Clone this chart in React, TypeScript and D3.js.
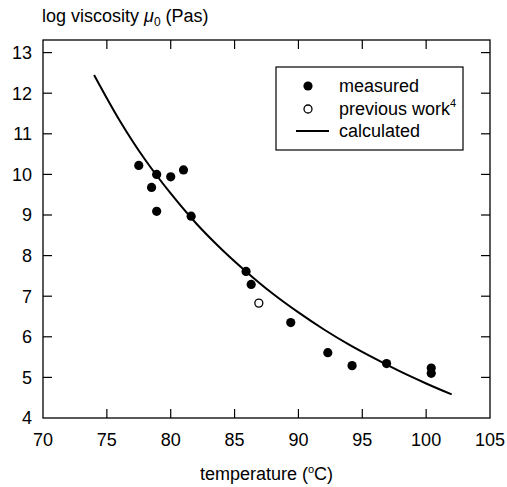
import React from "react";
import * as d3 from "d3";

const measuredT = [77.5, 78.5, 78.9, 78.9, 80.0, 81.0, 81.6, 85.9, 86.3, 89.4, 92.3, 94.2, 96.9, 100.4, 100.4];
const measuredLogMu = [10.22, 9.68, 10.0, 9.09, 9.94, 10.11, 8.97, 7.61, 7.29, 6.35, 5.61, 5.29, 5.34, 5.23, 5.1];
const previousT = [86.9];
const previousLogMu = [6.83];
const calcT = [74, 76, 78, 80, 82, 84, 86, 88, 90, 92, 94, 96, 98, 100, 102];
const calcLogMu = [12.45, 11.33, 10.36, 9.53, 8.79, 8.15, 7.58, 7.06, 6.6, 6.18, 5.8, 5.46, 5.14, 4.85, 4.58];
const xTicks = [70, 75, 80, 85, 90, 95, 100, 105];
const yTicks = [4, 5, 6, 7, 8, 9, 10, 11, 12, 13];

const W = 507;
const H = 487;
const left = 43;
const right = 490;
const bottom = 418;
const top = 40;
const font = "'Liberation Sans', Arial, Helvetica, sans-serif";
const fs = 18;

export default function App() {
  const x = d3.scaleLinear().domain([70, 105]).range([left, right]);
  const y = d3.scaleLinear().domain([4, 13]).range([bottom, bottom - 9 * 40.6]);
  const line = d3
    .line<number>()
    .x((_, i) => x(calcT[i]))
    .y((d) => y(d))
    .curve(d3.curveCatmullRom);
  const tl = 9;
  return (
    <svg width={W} height={H} style={{ position: "absolute", left: 0, top: 0 }} fontFamily={font}>
      <rect x={0} y={0} width={W} height={H} fill="#fff" />
      <rect x={left} y={top} width={right - left} height={bottom - top} fill="none" stroke="#000" strokeWidth={1.3} />
      {xTicks.map((t) => (
        <g key={"x" + t}>
          {t > 70 && t < 105 && (
            <>
              <line x1={x(t)} x2={x(t)} y1={bottom} y2={bottom - tl} stroke="#000" strokeWidth={1.2} />
              <line x1={x(t)} x2={x(t)} y1={top} y2={top + tl} stroke="#000" strokeWidth={1.2} />
            </>
          )}
          <text x={x(t)} y={446} fontSize={fs} textAnchor="middle">
            {t}
          </text>
        </g>
      ))}
      {yTicks.map((t) => (
        <g key={"y" + t}>
          {t > 4 && (
            <>
              <line x1={left} x2={left + tl} y1={y(t)} y2={y(t)} stroke="#000" strokeWidth={1.2} />
              <line x1={right} x2={right - tl} y1={y(t)} y2={y(t)} stroke="#000" strokeWidth={1.2} />
            </>
          )}
          <text x={32} y={y(t)} dy="0.36em" fontSize={fs} textAnchor="end">
            {t}
          </text>
        </g>
      ))}
      <path d={line(calcLogMu) || ""} fill="none" stroke="#000" strokeWidth={2} />
      {measuredT.map((t, i) => (
        <circle key={"m" + i} cx={x(t)} cy={y(measuredLogMu[i])} r={4.6} fill="#000" />
      ))}
      {previousT.map((t, i) => (
        <circle key={"p" + i} cx={x(t)} cy={y(previousLogMu[i])} r={4} fill="#fff" stroke="#000" strokeWidth={1.3} />
      ))}
      <text x={42} y={22} fontSize={fs}>
        log viscosity{" "}
        <tspan fontStyle="italic">μ</tspan>
        <tspan fontSize={12} dy={4}>0</tspan>
        <tspan dy={-4}> (Pas)</tspan>
      </text>
      <text x={266.5} y={480} fontSize={fs} textAnchor="middle">
        temperature (<tspan fontSize={11} dy={-7}>o</tspan>
        <tspan dy={7}>C)</tspan>
      </text>
      <g>
        <rect x={276} y={67} width={187} height={83} fill="#fff" stroke="#000" strokeWidth={1.2} />
        <circle cx={308} cy={86} r={4.6} fill="#000" />
        <text x={339} y={86} dy="0.36em" fontSize={fs}>measured</text>
        <circle cx={308} cy={109} r={4} fill="#fff" stroke="#000" strokeWidth={1.3} />
        <text x={339} y={109} dy="0.36em" fontSize={fs}>
          previous work<tspan fontSize={11} dy={-8}>4</tspan>
        </text>
        <line x1={296} x2={329} y1={131} y2={131} stroke="#000" strokeWidth={2} />
        <text x={339} y={131} dy="0.36em" fontSize={fs}>calculated</text>
      </g>
    </svg>
  );
}
